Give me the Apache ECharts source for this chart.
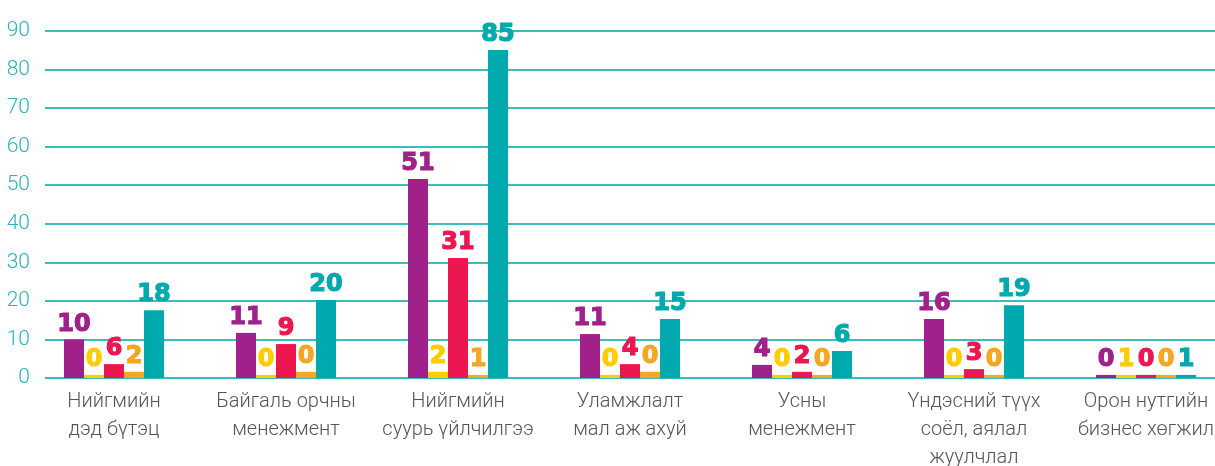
<!DOCTYPE html>
<html>
<head>
<meta charset="utf-8">
<script src="https://cdn.jsdelivr.net/npm/echarts@6/dist/echarts.min.js"></script>
<style>
  html, body { margin: 0; padding: 0; background: #fff; }
  #main { width: 1215px; height: 466px; }
</style>
</head>
<body>
<div id="main"></div>
<script>
// категориуд
var categories = [
  'Нийгмийн\nдэд бүтэц',
  'Байгаль орчны\nменежмент',
  'Нийгмийн\nсуурь үйлчилгээ',
  'Уламжлалт\nмал аж ахуй',
  'Усны\nменежмент',
  'Үндэсний түүх\nсоёл, аялал\nжуулчлал',
  'Орон нутгийн\nбизнес хөгжил'
];

var yTicks = [0, 10, 20, 30, 40, 50, 60, 70, 80, 90];

// bar heights as drawn in the picture
var purpleVals = [10, 11.7, 51.6, 11.4, 3.4, 15.3, 0.8];
var yellowVals = [0.8, 0.8, 1.6, 0.8, 0.8, 0.8, 0.8];
var redVals    = [3.6, 8.8, 31.1, 3.6, 1.6, 2.3, 0.8];
var orangeVals = [1.6, 1.6, 0.8, 1.6, 0.8, 0.8, 0.8];
var tealVals   = [17.6, 20.2, 85.1, 15.3, 7.0, 18.9, 0.8];

// printed labels above the bars
var purpleLbl = [10, 11, 51, 11, 4, 16, 0];
var yellowLbl = [0, 0, 2, 0, 0, 0, 1];
var redLbl    = [6, 9, 31, 4, 2, 3, 0];
var orangeLbl = [2, 0, 1, 0, 0, 0, 0];
var tealLbl   = [18, 20, 85, 15, 6, 19, 1];

var colors = ['#a0218a', '#ffcc00', '#ec1651', '#f5a623', '#00a9ad'];

var myChart = echarts.init(document.getElementById('main'));

function mkSeries (name, vals, lbls, color) {
  return {
    name: name,
    type: 'bar',
    xAxisIndex: 1,
    yAxisIndex: 1,
    barWidth: 20,
    barGap: 0,
    data: vals,
    itemStyle: { color: color },
    label: {
      show: true,
      position: 'top',
      distance: 3,
      color: color,
      fontFamily: 'DejaVu Sans',
      fontWeight: 'bold',
      fontSize: 24,
      textBorderColor: color,
      textBorderWidth: 1.2,
      formatter: function (p) { return lbls[p.dataIndex]; }
    }
  };
}

var series = [
  mkSeries('s1', purpleVals, purpleLbl, colors[0]),
  mkSeries('s2', yellowVals, yellowLbl, colors[1]),
  mkSeries('s3', redVals, redLbl, colors[2]),
  mkSeries('s4', orangeVals, orangeLbl, colors[3]),
  mkSeries('s5', tealVals, tealLbl, colors[4])
];

var option = {
  animation: false,
  grid: [
    { left: 45, right: 0, top: 31, bottom: 88, outerBoundsMode: 'none' },
    { left: 28, right: -17, top: 31, bottom: 88, outerBoundsMode: 'none' }
  ],
  xAxis: [
    { gridIndex: 0, type: 'category', data: categories, show: false },
    {
      gridIndex: 1,
      type: 'category',
      data: categories,
      axisLine: { show: false },
      axisTick: { show: false },
      axisLabel: {
        margin: 10,
        color: '#555',
        fontFamily: 'Roboto',
        fontWeight: 300,
        fontSize: 20,
        lineHeight: 28,
        interval: 0
      }
    }
  ],
  yAxis: [
    {
      gridIndex: 0,
      type: 'value',
      min: yTicks[0],
      max: yTicks[yTicks.length - 1],
      interval: 10,
      axisLine: { show: false },
      axisTick: { show: false },
      axisLabel: {
        margin: 15,
        color: '#2ab3b8',
        fontFamily: 'Roboto',
        fontWeight: 300,
        fontSize: 21
      },
      splitLine: { lineStyle: { color: '#3bbdbd', width: 2 } }
    },
    {
      gridIndex: 1,
      type: 'value',
      min: yTicks[0],
      max: yTicks[yTicks.length - 1],
      interval: 10,
      show: false,
      splitLine: { show: false }
    }
  ],
  series: series
};

myChart.setOption(option);
</script>
</body>
</html>
